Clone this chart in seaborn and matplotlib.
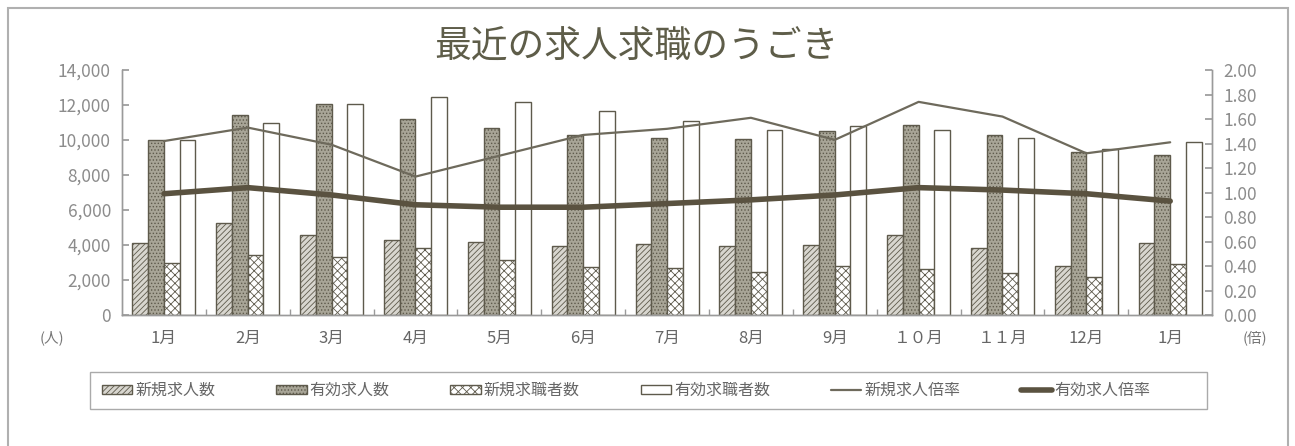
import numpy as np
import pandas as pd
import matplotlib
matplotlib.use("Agg")
import matplotlib.pyplot as plt
from matplotlib.patches import Patch, Rectangle
from matplotlib.lines import Line2D
import seaborn as sns

sns.set_theme(style="white")
plt.rcParams['font.family'] = ['Noto Sans CJK JP', 'DejaVu Sans']
plt.rcParams['hatch.linewidth'] = 0.6

months = ['1月', '2月', '3月', '4月', '5月', '6月', '7月', '8月', '9月',
          '１０月', '１１月', '12月', '1月']
new_offers = [4100, 5250, 4570, 4290, 4150, 3940, 4060, 3960, 4000, 4570, 3810, 2800, 4100]
active_offers = [10000, 11450, 12040, 11220, 10670, 10270, 10110, 10040, 10530, 10880, 10270, 9330, 9130]
new_seekers = [2950, 3430, 3330, 3810, 3140, 2730, 2690, 2480, 2820, 2650, 2380, 2170, 2910]
active_seekers = [10000, 11000, 12070, 12440, 12150, 11660, 11100, 10550, 10800, 10570, 10100, 9470, 9870]
new_ratio = [1.42, 1.53, 1.39, 1.13, 1.30, 1.47, 1.52, 1.61, 1.43, 1.74, 1.62, 1.32, 1.41]
active_ratio = [0.99, 1.04, 0.98, 0.90, 0.88, 0.88, 0.91, 0.94, 0.98, 1.04, 1.02, 0.99, 0.93]

bar_names = ['新規求人数', '有効求人数', '新規求職者数', '有効求職者数']
line_names = ['新規求人倍率', '有効求人倍率']

idx = list(range(len(months)))
bars = pd.DataFrame({
    'idx': idx * 4,
    'series': sum([[n] * len(months) for n in bar_names], []),
    'value': new_offers + active_offers + new_seekers + active_seekers,
})
lines = pd.DataFrame({'idx': idx, line_names[0]: new_ratio,
                      line_names[1]: active_ratio})

edge = '#5e5a4c'
fills = ['#d8d6cf', '#a8a597', '#ffffff', '#ffffff']
hatches = ['//////', '.....', 'xxxx', '']
thin_col = '#6e6a5c'
thick_col = '#5a5240'
axis_col = '#9a9a9a'
text_col = '#777777'

fig = plt.figure(figsize=(12.95, 4.46), dpi=100)
ax = fig.add_axes([0.0942, 0.2937, 0.8418, 0.5493])

plt.rcParams['hatch.color'] = edge
sns.barplot(data=bars, x='idx', y='value', hue='series', hue_order=bar_names,
            width=0.75, ax=ax, legend=False, saturation=1)
for i, cont in enumerate(ax.containers):
    for p in cont.patches:
        p.set_facecolor(fills[i])
        p.set_edgecolor(edge)
        p.set_linewidth(1.0)
        p.set_hatch(hatches[i])

ax.set_ylim(0, 14000)
ax.set_yticks(np.arange(0, 14001, 2000))
ax.set_yticklabels([f'{v:,}' for v in range(0, 14001, 2000)])
ax.set_xlim(-0.5, len(months) - 0.5)
ax.set_xticks(idx)
ax.set_xticklabels(months)
ax.set_xticks(np.arange(0.5, len(months) - 1, 1.0), minor=True)
ax.set_xlabel('')
ax.set_ylabel('')

ax2 = ax.twinx()
sns.lineplot(data=lines, x='idx', y=line_names[0], ax=ax2, color=thin_col, lw=1.6)
sns.lineplot(data=lines, x='idx', y=line_names[1], ax=ax2, color=thick_col, lw=4)
ax2.set_ylim(0, 2.0)
ax2.set_yticks(np.arange(0, 2.01, 0.2))
ax2.set_yticklabels([f'{v:.2f}' for v in np.arange(0, 2.01, 0.2)])
ax2.set_ylabel('')
ax2.set_xlim(-0.5, len(months) - 0.5)

for a in (ax, ax2):
    a.spines['top'].set_visible(False)
    for s in ('left', 'right', 'bottom'):
        a.spines[s].set_color(axis_col)
        a.spines[s].set_linewidth(1.0)
    a.tick_params(axis='y', direction='in', length=5, color=axis_col,
                  labelsize=12.5, labelcolor='#8c8c8c', pad=8)
ax.tick_params(axis='x', which='major', length=0, labelsize=12,
               labelcolor='#666666', pad=11)
ax.tick_params(axis='x', which='minor', bottom=True, direction='in',
               length=4, color=axis_col)
ax.tick_params(axis='y', left=True)
ax2.tick_params(axis='y', right=True)

fig.text(0.491, 0.895, '最近の求人求職のうごき', ha='center', va='center',
         fontsize=26.5, color='#5e5d49')
fig.text(0.040, 0.242, '(人)', ha='center', va='center', fontsize=10.5, color=text_col)
fig.text(0.969, 0.242, '(倍)', ha='center', va='center', fontsize=10.5, color=text_col)

handles = [Patch(facecolor=fills[i], edgecolor=edge, hatch=hatches[i], lw=1.0)
           for i in range(4)]
handles += [Line2D([], [], color=thin_col, lw=1.6), Line2D([], [], color=thick_col, lw=4)]
leg = fig.legend(handles, bar_names + line_names, ncol=6,
                 bbox_to_anchor=(102 / 1295, 1 - 390.5 / 446), loc='center left',
                 frameon=False, fontsize=11.5, handlelength=1.9, handleheight=0.5,
                 handletextpad=0.2, columnspacing=3.8, borderpad=0, borderaxespad=0)
for t in leg.get_texts():
    t.set_color('#666666')

# legend frame, drawn wider on the right like the original
fig.patches.append(Rectangle((90 / 1295, 1 - 409 / 446), 1117 / 1295, 37 / 446,
                             transform=fig.transFigure, fill=False,
                             edgecolor='#aaaaaa', lw=1.0))
# outer border of the picture
fig.patches.append(Rectangle((8 / 1295, -0.1), 1280 / 1295, 1.1 - 8 / 446,
                             transform=fig.transFigure, fill=False,
                             edgecolor='#b0b0b0', lw=1.5))

fig.savefig('out.png', dpi=100)
